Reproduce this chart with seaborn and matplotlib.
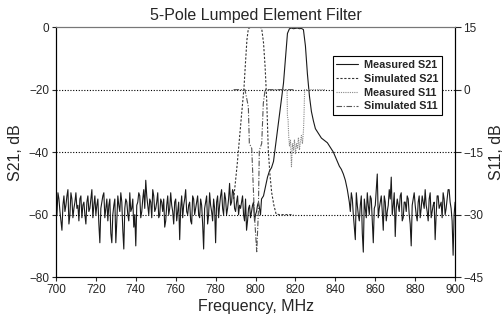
import numpy as np
import pandas as pd
import matplotlib
matplotlib.use('Agg')
import matplotlib.pyplot as plt
import seaborn as sns

# measured S21 (dB): noise floor below band, the passband, noise floor above band
noise_lo_freq = np.arange(700, 804)
noise_lo = [-56, -53, -59, -65, -54, -57, -52, -60, -55, -58,
            -53, -57, -55, -61, -56, -63, -54, -58, -52, -57,
            -60, -55, -69, -56, -53, -58, -62, -55, -69, -57,
            -69, -54, -59, -56, -71, -55, -60, -53, -58, -64,
            -70, -56, -54, -59, -52, -49, -57, -55, -61, -54,
            -58, -53, -60, -56, -55, -62, -54, -58, -57, -63,
            -55, -59, -68, -54, -57, -52, -60, -56, -63, -55,
            -58, -54, -61, -57, -71, -56, -63, -53, -59, -55,
            -69, -54, -57, -52, -60, -55, -58, -50, -56, -53,
            -59, -54, -57, -56, -60, -55, -62, -57, -59, -56,
            -60, -57, -58, -55]
noise_lo_half_freq = np.arange(700.5, 803, 1.0)
noise_lo_half = [-60, -55, -62, -57, -59, -54, -63, -53, -61, -56,
                 -58, -62, -54, -57, -60, -56, -59, -55, -61, -54,
                 -57, -63, -58, -54, -61, -55, -57, -66, -60, -55,
                 -62, -57, -53, -65, -58, -56, -62, -59, -55, -60,
                 -57, -53, -61, -55, -58, -54, -60, -56, -52, -59,
                 -56, -61, -55, -59, -64, -57, -60, -53, -59, -56,
                 -62, -56, -58, -61, -55, -59, -57, -62, -54, -60,
                 -56, -60, -55, -63, -58, -54, -60, -57, -62, -58,
                 -56, -61, -54, -58, -53, -60, -55, -57, -52, -58,
                 -56, -60, -58, -54, -62, -65, -58, -61, -57, -62,
                 -59, -56, -60]
band_freq = np.arange(804, 847)
band = [-54, -51, -48, -46, -45, -43, -38, -33, -28, -23,
        -18, -10, -2, -0.5, -0.3, -0.5, -0.4, -0.3, -0.5, -0.4,
        -0.8, -6, -15, -22, -27, -30, -32.5, -33.5, -34.5, -35.5,
        -36, -36.5, -37, -38, -39, -40, -41.5, -43, -44.5, -45.5,
        -47, -49, -52]
noise_hi_freq = np.arange(847, 901)
noise_hi = [-56, -53, -60, -68, -57, -62, -54, -72, -58, -53,
            -60, -55, -69, -57, -47, -58, -54, -65, -56, -59,
            -52, -48, -57, -67, -55, -59, -53, -61, -56, -54,
            -60, -70, -55, -57, -62, -54, -58, -56, -52, -59,
            -55, -61, -57, -68, -54, -58, -56, -53, -60, -55,
            -52, -58, -73, -56]
noise_hi_half_freq = np.arange(847.5, 900, 1.0)
noise_hi_half = [-59, -55, -64, -53, -60, -57, -66, -55, -61, -57,
                 -54, -62, -58, -52, -61, -56, -59, -54, -62, -57,
                 -55, -60, -53, -58, -57, -54, -62, -56, -59, -55,
                 -63, -57, -53, -60, -56, -61, -54, -58, -57, -62,
                 -53, -59, -56, -60, -54, -57, -61, -55, -58, -52,
                 -56, -62, -60]

# simulated S21 (dB)
sim21_freq = [789.0, 789.7, 790.8, 791.9, 793.0, 794.2, 795.0, 795.7, 796.4, 797.5,
              799.0, 801.0, 802.5, 803.1, 804.0, 804.8, 805.6, 806.4, 807.2, 808.1,
              809.2, 810.3, 812.0, 815.0, 819.0]
sim21 = [-55, -51, -44, -36, -28, -19.6, -11, -4, -0.5, 0,
         0, 0, 0, -0.5, -5, -12.7, -23.4, -39.4, -47, -53,
         -57, -59.8, -60, -60, -60]

# measured S11 (dB, right axis)
meas11_freq = [805.0, 815.8, 816.0, 816.3, 816.6, 817.0, 817.5, 818.0, 818.5, 819.0,
               819.5, 820.0, 820.5, 821.0, 821.5, 822.0, 822.5, 823.0, 823.5, 824.0,
               824.3, 824.6, 835.0]
meas11 = [0, 0, -6.5, -7, -11, -13.5, -12, -18.5, -13, -14.5,
          -12, -15.5, -13, -14, -11.5, -14.5, -12.5, -11, -13, -10,
          -6, 0, 0]

# simulated S11 (dB, right axis)
sim11_freq = [789.0, 794.7, 796.4, 796.9, 798.1, 799.4, 800.6, 801.4, 801.9, 803.1,
              803.9, 804.8, 819.0]
sim11 = [0, 0, -4.1, -12.9, -14.1, -29.7, -38.9, -29.7, -14.6, -12.9,
         -3.3, 0, 0]

meas21 = pd.DataFrame({
    'freq': np.concatenate([noise_lo_freq, noise_lo_half_freq, band_freq,
                            noise_hi_freq, noise_hi_half_freq]),
    'db': noise_lo + noise_lo_half + band + noise_hi + noise_hi_half,
}).sort_values('freq')

sns.set_style('white')
plt.rcParams['font.family'] = ['Liberation Sans', 'DejaVu Sans']

fig, ax = plt.subplots(figsize=(5.04, 3.23), dpi=100)
fig.subplots_adjust(left=0.111, right=0.903, top=0.916, bottom=0.142)
ax2 = ax.twinx()

for y in [-20, -40, -60]:
    ax.axhline(y, color='black', lw=0.8, ls=(0, (1, 1.5)), zorder=1)

sns.lineplot(data=meas21, x='freq', y='db', ax=ax, color='#1a1a1a', lw=0.8,
             estimator=None, sort=False, label='Measured S21', legend=False)
sns.lineplot(x=sim21_freq, y=sim21, ax=ax, color='#333333', lw=0.8,
             linestyle=(0, (2, 1.5)), estimator=None, label='Simulated S21', legend=False)
sns.lineplot(x=meas11_freq, y=meas11, ax=ax2, color='#888888', lw=0.8,
             linestyle=(0, (1, 1)), estimator=None, label='Measured S11', legend=False)
sns.lineplot(x=sim11_freq, y=sim11, ax=ax2, color='#555555', lw=0.8,
             linestyle=(0, (5, 1.5, 1, 1.5)), estimator=None, label='Simulated S11', legend=False)

ax.set_xlim(700, 900)
ax.set_ylim(-80, 0)
ax2.set_ylim(-45, 15)
ax.set_xticks(range(700, 901, 20))
ax.set_yticks(range(-80, 1, 20))
ax2.set_yticks(range(-45, 16, 15))

ax.set_title('5-Pole Lumped Element Filter', fontsize=11.5, pad=5)
ax.set_xlabel('Frequency, MHz', fontsize=11.5, labelpad=2)
ax.set_ylabel('S21, dB', fontsize=11.5, labelpad=4)
ax2.set_ylabel('S11, dB', fontsize=11.5, labelpad=4)

ax.tick_params(axis='both', labelsize=8.5, direction='out', length=3, width=0.8,
               bottom=True, left=True, pad=2)
ax2.tick_params(axis='y', labelsize=8.5, direction='out', length=4, width=0.8,
                right=True, pad=2)

for a in (ax, ax2):
    for side in ['left', 'right', 'bottom']:
        a.spines[side].set_color('black')
        a.spines[side].set_linewidth(0.8)
    a.spines['top'].set_color('#777777')
    a.spines['top'].set_linewidth(0.8)

h1, l1 = ax.get_legend_handles_labels()
h2, l2 = ax2.get_legend_handles_labels()
leg = ax2.legend(h1 + h2, l1 + l2, loc='upper right', bbox_to_anchor=(0.98, 0.905),
                 fancybox=False, edgecolor='black', framealpha=1,
                 prop={'size': 7.8, 'weight': 'bold'}, labelspacing=0.35,
                 handlelength=2.0, handletextpad=0.5, borderpad=0.35)
leg.get_frame().set_linewidth(0.8)

fig.savefig('out.png', dpi=100)
